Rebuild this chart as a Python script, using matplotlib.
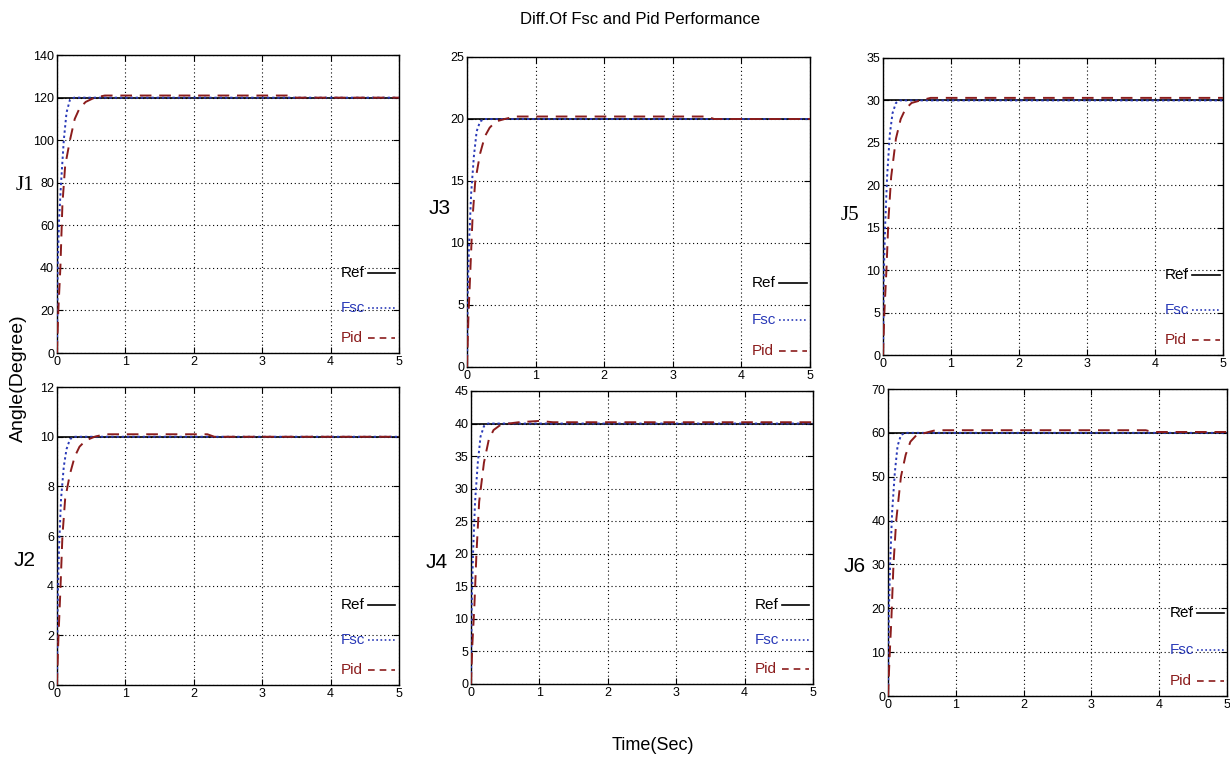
import matplotlib
matplotlib.use("Agg")
import matplotlib.pyplot as plt
from matplotlib.lines import Line2D

plt.rcParams['font.family'] = ['Liberation Sans', 'DejaVu Sans']

# joint names and reference angles (degree)
joints = ["J1", "J2", "J3", "J4", "J5", "J6"]
ref_vals = [120, 10, 20, 40, 30, 60]
y_max = [140, 12, 25, 45, 35, 70]
y_step = [20, 2, 5, 5, 5, 10]

# Fsc response
fsc_t = {
    "J1": [0, 0.01, 0.03, 0.06, 0.10, 0.14, 0.19, 0.25, 5],
    "J2": [0, 0.01, 0.03, 0.06, 0.10, 0.14, 0.19, 0.25, 5],
    "J3": [0, 0.01, 0.03, 0.06, 0.10, 0.14, 0.19, 0.25, 5],
    "J4": [0, 0.01, 0.03, 0.06, 0.10, 0.14, 0.19, 0.25, 5],
    "J5": [0, 0.01, 0.03, 0.06, 0.10, 0.14, 0.19, 0.25, 5],
    "J6": [0, 0.01, 0.03, 0.06, 0.10, 0.14, 0.19, 0.25, 5],
}
fsc_v = {
    "J1": [0, 40, 62, 80, 100, 113, 119, 120, 120],
    "J2": [0, 3.3, 5.5, 7.5, 8.8, 9.5, 9.9, 10, 10],
    "J3": [0, 6, 10, 14, 17, 19, 19.8, 20, 20],
    "J4": [0, 12, 20, 28, 34, 38, 39.6, 40, 40],
    "J5": [0, 9, 15, 21, 26, 28.5, 29.7, 30, 30],
    "J6": [0, 18, 30, 42, 51, 57, 59.5, 60, 60],
}

# Pid response
pid_t = {
    "J1": [0, 0.02, 0.05, 0.08, 0.12, 0.19, 0.26, 0.33, 0.42, 0.55, 0.7, 3.4, 3.5, 5],
    "J2": [0, 0.02, 0.05, 0.08, 0.12, 0.19, 0.26, 0.33, 0.42, 0.55, 0.7, 2.2, 2.3, 5],
    "J3": [0, 0.02, 0.05, 0.08, 0.12, 0.19, 0.26, 0.33, 0.42, 0.55, 0.7, 3.5, 3.6, 5],
    "J4": [0, 0.02, 0.05, 0.08, 0.12, 0.19, 0.26, 0.33, 0.42, 0.55, 0.7, 1.0, 1.2, 5],
    "J5": [0, 0.02, 0.05, 0.08, 0.12, 0.19, 0.26, 0.33, 0.42, 0.55, 0.7, 3.0, 4.0, 5],
    "J6": [0, 0.02, 0.05, 0.08, 0.12, 0.19, 0.26, 0.33, 0.42, 0.55, 0.7, 3.8, 3.9, 5],
}
pid_v = {
    "J1": [0, 20, 40, 70, 88, 100, 110, 115, 118, 120, 121, 121, 120, 120],
    "J2": [0, 1.8, 3.8, 6, 7.5, 8.5, 9.2, 9.6, 9.85, 10, 10.1, 10.1, 10, 10],
    "J3": [0, 4, 8, 12, 15, 17.2, 18.6, 19.3, 19.8, 20, 20.2, 20.2, 20, 20],
    "J4": [0, 6, 12, 20, 28, 34, 37.5, 39, 39.7, 40, 40.2, 40.4, 40.2, 40.2],
    "J5": [0, 5, 10, 16, 21, 25.5, 27.8, 29, 29.7, 30, 30.3, 30.3, 30.3, 30.3],
    "J6": [0, 8, 18, 30, 40, 50, 55, 58, 59.5, 60, 60.6, 60.6, 60.2, 60.2],
}

x_ticks = [0, 1, 2, 3, 4, 5]

# axes boxes in figure fraction, [left, bottom, width, height]
boxes = {
    "J1": [0.0463, 0.5367, 0.278, 0.391],
    "J3": [0.3797, 0.5184, 0.2789, 0.4068],
    "J5": [0.7179, 0.5341, 0.2764, 0.3898],
    "J2": [0.0463, 0.1010, 0.278, 0.391],
    "J4": [0.3829, 0.1024, 0.278, 0.3845],
    "J6": [0.7220, 0.0866, 0.2756, 0.4029],
}
label_pos = {
    "J1": (25, 186), "J3": (440, 208), "J5": (850, 215),
    "J2": (25, 560), "J4": (437, 562), "J6": (855, 567),
}
serif_labels = ["J1", "J5"]

ref_c = "black"
fsc_c = "#2a3ab8"
pid_c = "#8b1c1c"

W, H = 1230, 762
fig = plt.figure(figsize=(W / 100, H / 100), dpi=100)

for j, ref, ym, ys in zip(joints, ref_vals, y_max, y_step):
    ax = fig.add_axes(boxes[j])
    ax.plot([0, 5], [ref, ref], color=ref_c, lw=1.2, zorder=3)
    ax.plot(fsc_t[j], fsc_v[j], color=fsc_c, lw=1.4, ls=(0, (1.2, 1.5)), zorder=4)
    ax.plot(pid_t[j], pid_v[j], color=pid_c, lw=1.4, ls=(0, (6, 4)), zorder=5)
    ax.set_xlim(0, 5)
    ax.set_ylim(0, ym)
    ax.set_xticks(x_ticks)
    ax.set_yticks(list(range(0, ym + 1, ys)))
    ax.grid(True, color="black", ls=(0, (1, 2.5)), lw=0.8)
    ax.tick_params(direction="in", labelsize=9, length=4, top=True, right=True,
                   labeltop=False, labelright=False, pad=2)
    for s in ax.spines.values():
        s.set_linewidth(1.0)

    # inline legend made of text and short line samples
    for lab, col, yy, ls in [("Ref", ref_c, 0.27, "-"),
                             ("Fsc", fsc_c, 0.15, (0, (1, 1.5))),
                             ("Pid", pid_c, 0.05, (0, (4, 3)))]:
        ax.text(0.83, yy, lab, color=col, fontsize=11, transform=ax.transAxes,
                va="center", ha="left", zorder=6)
        ax.add_line(Line2D([0.91, 0.99], [yy, yy], color=col, ls=ls, lw=1.2,
                           transform=ax.transAxes, zorder=6))

    px, py = label_pos[j]
    fam = ["Liberation Serif", "DejaVu Serif"] if j in serif_labels else ["Liberation Sans", "DejaVu Sans"]
    fig.text(px / W, 1 - py / H, j, fontsize=15, family=fam, ha="center", va="center")

fig.text(640 / W, 1 - 20 / H, "Diff.Of Fsc and Pid Performance", fontsize=12,
         ha="center", va="center")
fig.text(653 / W, 1 - 745 / H, "Time(Sec)", fontsize=13, ha="center", va="center")
fig.text(18 / W, 1 - 378 / H, "Angle(Degree)", fontsize=14, rotation=90,
         ha="center", va="center")

fig.savefig("out.png", dpi=100)
